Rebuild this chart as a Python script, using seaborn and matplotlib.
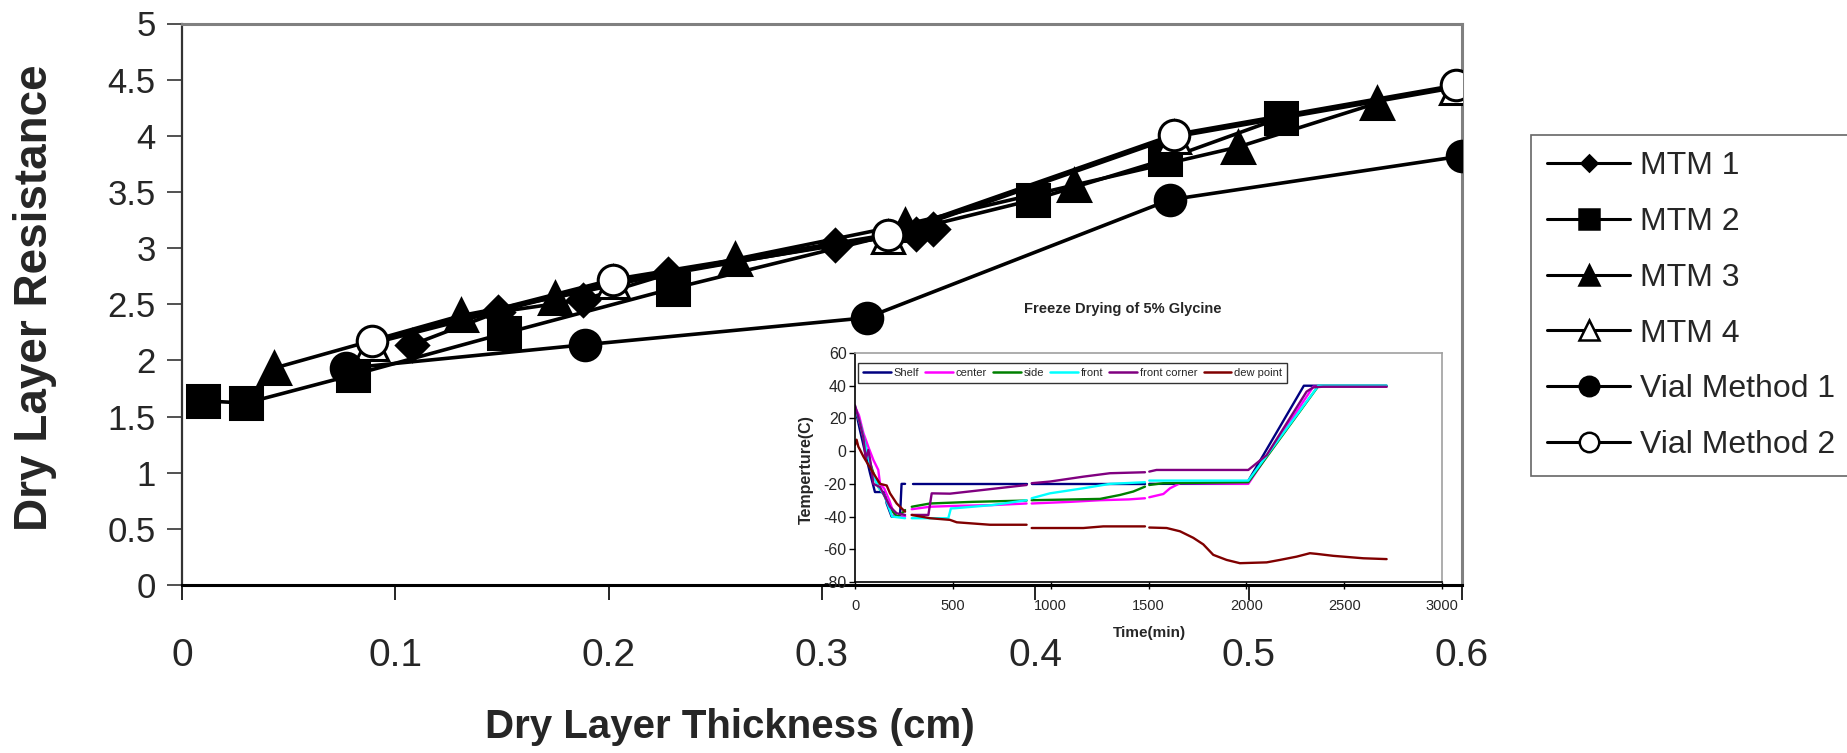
import numpy as np
import matplotlib
matplotlib.use("Agg")
import matplotlib.pyplot as plt
from matplotlib.lines import Line2D
import seaborn as sns

nan = np.nan

# ---- Dry layer resistance vs dry layer thickness (cm) ----
MTM1_X = [0.108, 0.148, 0.188, 0.228, 0.306, 0.344, 0.352]
MTM1_Y = [2.14, 2.43, 2.54, 2.77, 3.03, 3.13, 3.17]
MTM2_X = [0.010, 0.030, 0.080, 0.151, 0.230, 0.399, 0.461, 0.515]
MTM2_Y = [1.64, 1.62, 1.87, 2.24, 2.64, 3.43, 3.79, 4.16]
MTM3_X = [0.043, 0.131, 0.175, 0.259, 0.339, 0.418, 0.495, 0.560]
MTM3_Y = [1.93, 2.40, 2.56, 2.90, 3.21, 3.56, 3.90, 4.29]
MTM4_X = [0.089, 0.202, 0.331, 0.465, 0.597]
MTM4_Y = [2.15, 2.70, 3.10, 3.99, 4.43]
VIAL1_X = [0.077, 0.189, 0.321, 0.463, 0.600]
VIAL1_Y = [1.93, 2.14, 2.38, 3.43, 3.82]
VIAL2_X = [0.089, 0.202, 0.331, 0.465, 0.597]
VIAL2_Y = [2.17, 2.72, 3.12, 4.01, 4.45]

SERIES_NAMES = ["MTM 1", "MTM 2", "MTM 3", "MTM 4", "Vial Method 1", "Vial Method 2"]
X_TICKS = [0, 0.1, 0.2, 0.3, 0.4, 0.5, 0.6]
X_TICK_LABELS = ["0", "0.1", "0.2", "0.3", "0.4", "0.5", "0.6"]
Y_TICKS = [0, 0.5, 1, 1.5, 2, 2.5, 3, 3.5, 4, 4.5, 5]
Y_TICK_LABELS = ["0", "0.5", "1", "1.5", "2", "2.5", "3", "3.5", "4", "4.5", "5"]

# ---- Freeze drying run of 5% glycine: time (min) vs temperature (C) ----
SHELF_T = [0, 25, 60, 77, 102, 153, 162, 187, 230, 238, 256, nan, 298, 877, nan, 903, 1482, nan, 1504, 2001, 2294, 2717]
SHELF_C = [27, 13, -5, -13.5, -25, -25, -32, -40, -40, -20, -20, nan, -20, -20, nan, -20, -20, nan, -20, -20, 40, 40]

CENTER_T = [0, 20, 43, 70, 94, 119, 128, 150, 175, 204, 256, nan, 290, 383, 500, 700, 877, nan, 903, 1100, 1252, 1400, 1482, nan, 1504, 1576, 1610, 1661, 2010, 2342, 2717]
CENTER_C = [27, 22, 11, 2, -5.4, -11.5, -20, -23, -30, -40, -40, nan, -35.5, -34, -33.5, -33, -32, nan, -32, -31, -30, -29.5, -28.8, nan, -28.2, -26.2, -22.7, -19.6, -20, 39.4, 39.4]

SIDE_T = [0, 30, 60, 90, 120, 150, 180, 215, 240, 256, nan, 290, 383, 600, 877, nan, 903, 1252, 1354, 1422, 1482, nan, 1504, 1576, 2010, 2368, 2717]
SIDE_C = [27, 15, 0, -12, -22, -27, -35, -40, -38, -36, nan, -34, -32, -31, -30.2, nan, -30, -29.2, -26.8, -24.7, -21.7, nan, -20.7, -19.6, -19, 39.8, 39.8]

FRONT_T = [0, 30, 60, 90, 120, 150, 190, 256, nan, 290, 477, 490, 511, 700, 877, nan, 903, 996, 1167, 1303, 1482, nan, 1504, 2010, 2368, 2717]
FRONT_C = [27, 15, 0, -14, -22, -27, -40, -41, nan, -41, -41, -35, -34.9, -33, -30, nan, -28.8, -25.8, -22.7, -20, -19, nan, -18, -18, 40, 40]

CORNER_T = [0, 25, 43, 55, 68, 77, 94, 128, 162, 179, 213, 256, nan, 290, 375, 392, 485, 656, 877, nan, 903, 996, 1167, 1303, 1482, nan, 1504, 1541, 2010, 2104, 2308, 2342, 2393, 2717]
CORNER_C = [28, 17, 8, -5, 0.7, -5, -20, -22, -30, -34, -38, -39, nan, -39, -39, -25.8, -26, -23.7, -20.7, nan, -19.6, -18.6, -15.6, -13.5, -12.9, nan, -12.5, -11.5, -11.5, -2.4, 36.4, 39, 39.4, 39.4]

DEW_T = [0, 8, 17, 43, 94, 128, 162, 179, 213, 247, 256, nan, 290, 383, 485, 520, 690, 877, nan, 903, 954, 1167, 1269, 1303, 1400, 1482, nan, 1504, 1593, 1661, 1729, 1780, 1831, 1899, 1967, 2104, 2172, 2257, 2325, 2359, 2444, 2598, 2717]
DEW_C = [3.8, 7, 2.8, -3.3, -13.5, -20, -21, -25.8, -32, -36, -37, nan, -39, -41, -42, -43.5, -45, -45, nan, -47, -47, -47, -46, -46, -46, -46, nan, -46.7, -47, -49, -53, -57, -63.4, -66.5, -68.5, -68, -66.5, -64.5, -62.4, -62.8, -64, -65.5, -66]

PROBE_NAMES = ["Shelf", "center", "side", "front", "front corner", "dew point"]
PROBE_COLORS = ["#000080", "#FF00FF", "#008000", "#00FFFF", "#800080", "#800000"]
INSET_X_TICKS = [0, 500, 1000, 1500, 2000, 2500, 3000]
INSET_Y_TICKS = [-80, -60, -40, -20, 0, 20, 40, 60]

sns.set_theme(style="white")
FONT = ["Liberation Sans", "DejaVu Sans"]
plt.rcParams["font.family"] = FONT

W, H = 1847, 753
fig = plt.figure(figsize=(W / 100, H / 100), dpi=100)
fig.patch.set_facecolor("white")


def fx(px):
    return px / W


def fy(py):
    return 1 - py / H


# ---------------- main chart ----------------
ax = fig.add_axes([fx(182), fy(585), fx(1462) - fx(182), fy(23.5) - fy(585)])
ax.set_facecolor("white")

styles = [
    dict(marker="D", ms=16.5, mfc="black"),
    dict(marker="s", ms=23, mfc="black"),
    dict(marker="^", ms=23, mfc="black"),
    dict(marker="^", ms=23, mfc="white"),
    dict(marker="o", ms=22, mfc="black"),
    dict(marker="o", ms=22, mfc="white"),
]
data = [(MTM1_X, MTM1_Y), (MTM2_X, MTM2_Y), (MTM3_X, MTM3_Y),
        (MTM4_X, MTM4_Y), (VIAL1_X, VIAL1_Y), (VIAL2_X, VIAL2_Y)]

for i, ((xs, ys), st) in enumerate(zip(data, styles)):
    sns.lineplot(x=xs, y=ys, ax=ax, color="black", linewidth=2.6,
                 marker=st["marker"], markersize=st["ms"],
                 markerfacecolor=st["mfc"], markeredgecolor="black",
                 markeredgewidth=2.2, sort=False, estimator=None,
                 legend=False, zorder=3 + i)

ax.set_xlim(0, 0.6)
ax.set_ylim(0, 5)
ax.set_xticks(X_TICKS)
ax.set_xticklabels(X_TICK_LABELS, fontsize=28)
ax.set_yticks(Y_TICKS)
ax.set_yticklabels(Y_TICK_LABELS, fontsize=25)
ax.tick_params(axis="x", direction="out", length=11, width=1.2, color="black", pad=27, bottom=True)
ax.tick_params(axis="y", direction="out", length=11, width=1.2, color="#333333", pad=8, left=True)
ax.set_xlabel("")
ax.set_ylabel("")
for side in ("top", "right"):
    ax.spines[side].set_color("#808080")
    ax.spines[side].set_linewidth(2.2)
ax.spines["left"].set_color("#333333")
ax.spines["left"].set_linewidth(1.6)
ax.spines["bottom"].set_color("black")
ax.spines["bottom"].set_linewidth(2.2)

fig.text(fx(35), fy(298), "Dry Layer Resistance", rotation=90, ha="center", va="center",
         fontsize=33, fontweight="bold")
fig.text(fx(730), fy(727), "Dry Layer Thickness (cm)", ha="center", va="center",
         fontsize=29, fontweight="bold")

# legend for the main chart
handles = []
for name, st in zip(SERIES_NAMES, styles):
    size = {"D": 8.5, "s": 15, "^": 14, "o": 14}[st["marker"]]
    handles.append(Line2D([], [], color="black", linewidth=2.2, marker=st["marker"],
                          markersize=size, markerfacecolor=st["mfc"],
                          markeredgecolor="black", markeredgewidth=1.8))
leg = fig.legend(handles, SERIES_NAMES, loc="upper left",
                 bbox_to_anchor=(fx(1531), fy(135)), bbox_transform=fig.transFigure,
                 borderaxespad=0, frameon=True, fancybox=False,
                 handlelength=2.6, handletextpad=0.3, labelspacing=0.81, borderpad=0.5,
                 prop={"size": 23})
leg.get_frame().set_edgecolor("#404040")
leg.get_frame().set_linewidth(1.2)

# ---------------- inset: freeze drying temperatures ----------------
ins = fig.add_axes([fx(855), fy(582), fx(1442) - fx(855), fy(353) - fy(582)])
ins.set_facecolor("none")


def draw_probe(axis, t, c, color):
    t = np.asarray(t, float)
    c = np.asarray(c, float)
    gaps = np.where(np.isnan(t))[0]
    for seg in np.split(np.arange(len(t)), gaps):
        seg = seg[~np.isnan(t[seg])]
        if len(seg) > 1:
            sns.lineplot(x=t[seg], y=c[seg], ax=axis, color=color, linewidth=1.7,
                         sort=False, estimator=None, legend=False)


probe_data = [(SHELF_T, SHELF_C), (CENTER_T, CENTER_C), (SIDE_T, SIDE_C),
              (FRONT_T, FRONT_C), (CORNER_T, CORNER_C), (DEW_T, DEW_C)]
for (t, c), col in zip(probe_data, PROBE_COLORS):
    draw_probe(ins, t, c, col)

ins.set_xlim(0, 3000)
ins.set_ylim(-80, 60)
ins.set_xticks(INSET_X_TICKS)
ins.set_xticklabels([str(v) for v in INSET_X_TICKS], fontsize=10.5)
ins.set_yticks(INSET_Y_TICKS)
ins.set_yticklabels([str(v) for v in INSET_Y_TICKS], fontsize=11.5)
ins.tick_params(axis="x", direction="out", length=5, width=1, color="black", pad=7, bottom=True)
ins.tick_params(axis="y", direction="out", length=4, width=1, color="black", pad=2, left=True)
ins.set_xlabel("")
ins.set_ylabel("")
for side in ("top", "right"):
    ins.spines[side].set_color("#a0a0a0")
    ins.spines[side].set_linewidth(1.2)
for side in ("left", "bottom"):
    ins.spines[side].set_color("black")
    ins.spines[side].set_linewidth(1.2)

probe_handles = [Line2D([], [], color=c, linewidth=1.8) for c in PROBE_COLORS]
ileg = ins.legend(probe_handles, PROBE_NAMES, loc="upper left", bbox_to_anchor=(0.005, 0.956),
                  borderaxespad=0, ncol=6, frameon=True, fancybox=False,
                  handlelength=2.5, handletextpad=0.25, columnspacing=0.55, borderpad=0.45,
                  prop={"size": 8})
ileg.get_frame().set_edgecolor("black")
ileg.get_frame().set_linewidth(1.0)

fig.text(fx(1123), fy(309), "Freeze Drying of 5% Glycine", ha="center", va="center",
         fontsize=10.5, fontweight="bold")
fig.text(fx(806), fy(470), "Temperture(C)", rotation=90, ha="center", va="center",
         fontsize=11.5, fontweight="bold")
fig.text(fx(1149), fy(633), "Time(min)", ha="center", va="center",
         fontsize=11, fontweight="bold")

fig.savefig("out.png", dpi=100, facecolor="white")
